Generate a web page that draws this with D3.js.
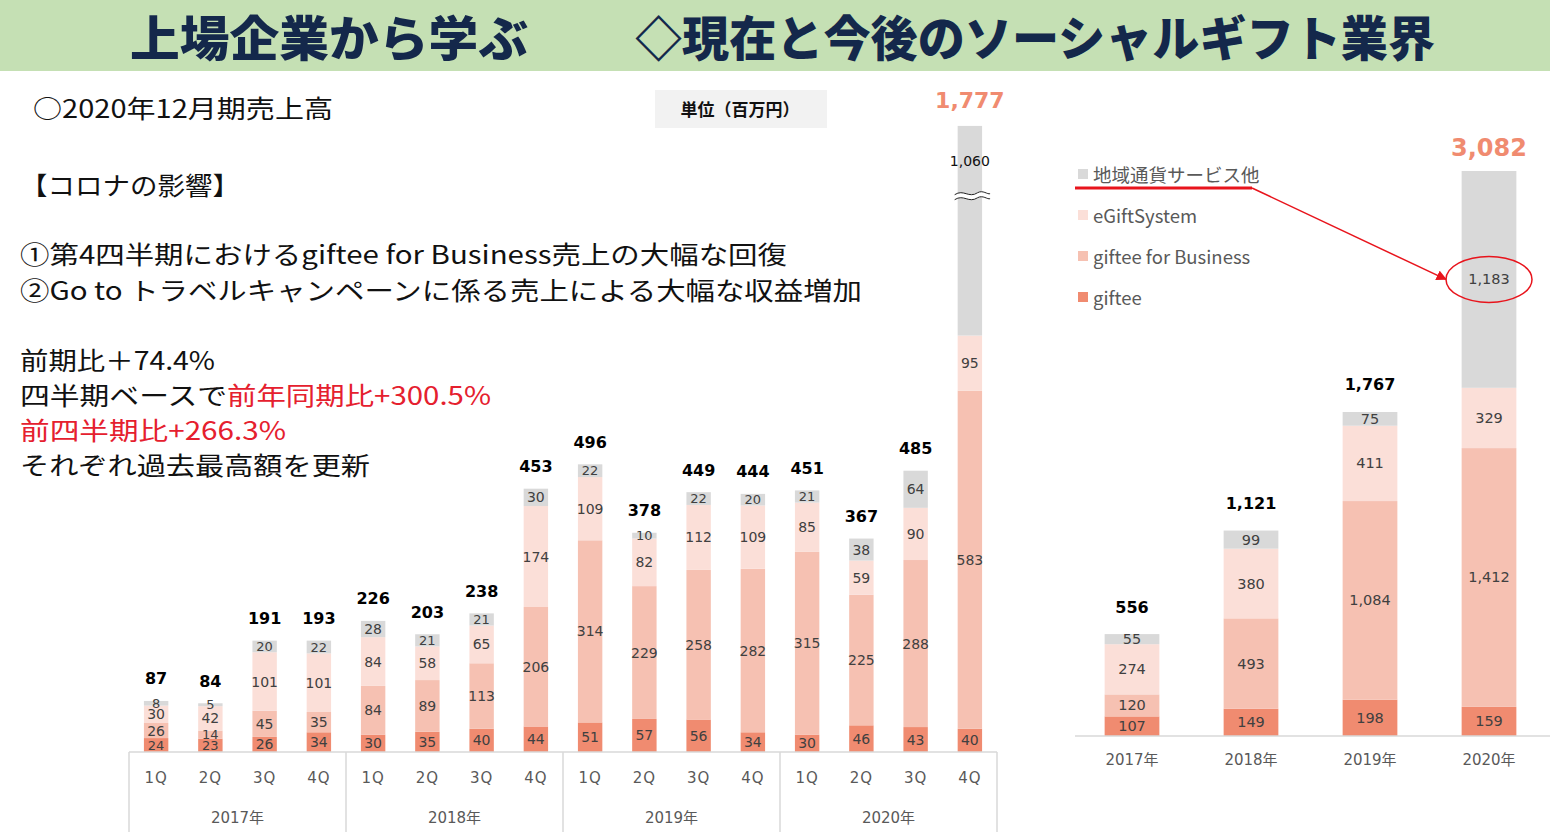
<!DOCTYPE html>
<html><head><meta charset="utf-8">
<script src="https://cdn.jsdelivr.net/npm/d3@7/dist/d3.min.js"></script>
<style>body{margin:0;background:#fff;overflow:hidden}svg{display:block}</style>
</head><body>
<script>
// ---------- DATA ----------
const seriesNames = ["giftee", "giftee for Business", "eGiftSystem", "地域通貨サービス他"];
const seriesKeys = ["giftee", "gfb", "egift", "other"];
const quarterLabels = ["1Q","2Q","3Q","4Q","1Q","2Q","3Q","4Q","1Q","2Q","3Q","4Q","1Q","2Q","3Q","4Q"];
const yearLabels = ["2017年","2018年","2019年","2020年"];
const qGiftee = [24,23,26,34, 30,35,40,44, 51,57,56,34, 30,46,43,40];
const qGfb    = [26,14,45,35, 84,89,113,206, 314,229,258,282, 315,225,288,583];
const qEgift  = [30,42,101,101, 84,58,65,174, 109,82,112,109, 85,59,90,95];
const qOther  = [8,5,20,22, 28,21,21,30, 22,10,22,20, 21,38,64,1060];
const qTotals = [87,84,191,193, 226,203,238,453, 496,378,449,444, 451,367,485,1777];
const aGiftee = [107,149,198,159];
const aGfb    = [120,493,1084,1412];
const aEgift  = [274,380,411,329];
const aOther  = [55,99,75,1183];
const aTotals = [556,1121,1767,3082];
const qBreakValue = 960; // axis break on the 2020 4Q bar

const colors = {giftee:"#f08b70", gfb:"#f6c1b2", egift:"#fbdfd8", other:"#d9d9d9"};
const fmt = d3.format(",");

const W = 1550, H = 832;
const svg = d3.select("body").append("svg").attr("width", W).attr("height", H)
  .style("font-family", "'Noto Sans CJK JP', sans-serif");

// ---------- HEADER ----------
svg.append("rect").attr("x",0).attr("y",0).attr("width",W).attr("height",71).attr("fill","#c5e0b4");
const titleG = svg.append("g").attr("fill","#14284b").style("font-weight",900).style("font-size","48px");
titleG.append("text").attr("x",130).attr("y",56).attr("textLength",398).attr("lengthAdjust","spacingAndGlyphs").text("上場企業から学ぶ");
titleG.append("text").attr("x",635).attr("y",56).attr("textLength",800).attr("lengthAdjust","spacingAndGlyphs").text("◇現在と今後のソーシャルギフト業界");

// ---------- LEFT TEXT ----------
const txt = svg.append("g").style("font-size","25px").attr("fill","#111");
txt.append("text").attr("x",33).attr("y",118).attr("textLength",300).attr("lengthAdjust","spacingAndGlyphs").text("○2020年12月期売上高");
txt.append("text").attr("x",20).attr("y",195).attr("textLength",220).attr("lengthAdjust","spacingAndGlyphs").text("【コロナの影響】");
txt.append("text").attr("x",20).attr("y",264).attr("textLength",767).attr("lengthAdjust","spacingAndGlyphs").text("①第4四半期におけるgiftee for Business売上の大幅な回復");
txt.append("text").attr("x",20).attr("y",300).attr("textLength",842).attr("lengthAdjust","spacingAndGlyphs").text("②Go to トラベルキャンペーンに係る売上による大幅な収益増加");
txt.append("text").attr("x",20).attr("y",370).attr("textLength",195).attr("lengthAdjust","spacingAndGlyphs").text("前期比＋74.4%");
const t2 = txt.append("text").attr("x",20).attr("y",405);
t2.append("tspan").attr("textLength",207).attr("lengthAdjust","spacingAndGlyphs").text("四半期ベースで");
t2.append("tspan").attr("fill","#e5202e").attr("x",227).attr("textLength",264).attr("lengthAdjust","spacingAndGlyphs").text("前年同期比+300.5%");
txt.append("text").attr("x",20).attr("y",440).attr("fill","#e5202e").attr("textLength",266).attr("lengthAdjust","spacingAndGlyphs").text("前四半期比+266.3%");
txt.append("text").attr("x",20).attr("y",475).attr("textLength",350).attr("lengthAdjust","spacingAndGlyphs").text("それぞれ過去最高額を更新");

// unit box
svg.append("rect").attr("x",655).attr("y",90).attr("width",172).attr("height",38).attr("fill","#f2f2f2");
svg.append("text").attr("x",740).attr("y",111).attr("text-anchor","middle").attr("dominant-baseline","middle")
  .style("font-size","17px").style("font-weight",700).attr("fill","#111").text("単位（百万円）");

// ---------- LEFT CHART (quarterly) ----------
const qRows = quarterLabels.map((q,i)=>({i, giftee:qGiftee[i], gfb:qGfb[i], egift:qEgift[i], other:qOther[i], total:qTotals[i]}));
const qStack = d3.stack().keys(seriesKeys)(qRows);
const xQ = d3.scaleBand().domain(d3.range(quarterLabels.length)).range([129, 997]).paddingInner(0.55).paddingOuter(0.275);
const yQ = d3.scaleLinear().domain([0, qBreakValue, d3.max(qTotals)]).range([752, 195.2, 126]);
const numFont = "'DejaVu Sans', 'Noto Sans CJK JP', sans-serif";

const gQ = svg.append("g");
qStack.forEach(layer => {
  const key = layer.key;
  gQ.append("g").selectAll("rect").data(layer).join("rect")
    .attr("x", d => xQ(d.data.i)).attr("width", xQ.bandwidth())
    .attr("y", d => yQ(d[1])).attr("height", d => yQ(d[0]) - yQ(d[1]))
    .attr("fill", colors[key]);
});
// break marks
const bi = quarterLabels.length - 1;
const by = yQ(qBreakValue);
const bx0 = xQ(bi) - 3, bx1 = xQ(bi) + xQ.bandwidth() + 8;
const wave = (yy) => { const p = d3.path(); p.moveTo(bx0, yy+2); p.bezierCurveTo(bx0+9, yy-4, bx0+14, yy+6, bx0+23, yy); p.bezierCurveTo(bx0+28, yy-3, bx0+33, yy+2, bx1, yy+1); return p.toString(); };
gQ.append("path").attr("d", wave(by)).attr("fill","none").attr("stroke","#fff").attr("stroke-width",5);
gQ.append("path").attr("d", wave(by-2.5)).attr("fill","none").attr("stroke","#222").attr("stroke-width",1);
gQ.append("path").attr("d", wave(by+2.5)).attr("fill","none").attr("stroke","#222").attr("stroke-width",1);

// segment labels
qStack.forEach(layer => {
  gQ.append("g").selectAll("text").data(layer).join("text")
    .attr("x", d => xQ(d.data.i) + xQ.bandwidth()/2)
    .attr("y", d => (d.data.i === bi && layer.key === "other") ? (yQ(d[1]) + by)/2 : (yQ(d[0]) + yQ(d[1]))/2)
    .attr("text-anchor","middle").attr("dominant-baseline","central")
    .style("font-family", numFont).style("font-size", d => (yQ(d[0]) - yQ(d[1]) < 14) ? "13px" : "14px")
    .attr("fill", d => (d.data.i === bi && layer.key === "other") ? "#111" : "#404040")
    .text(d => fmt(d.data[layer.key]));
});
// totals
gQ.append("g").selectAll("text").data(qRows).join("text")
  .attr("x", d => xQ(d.i) + xQ.bandwidth()/2)
  .attr("y", d => yQ(d3.sum(seriesKeys, k => d[k])) - (d.i === bi ? 25 : 22))
  .attr("text-anchor","middle").attr("dominant-baseline","central")
  .style("font-family", numFont).style("font-weight",700)
  .style("font-size", d => d.i === bi ? "22px" : "16px")
  .attr("fill", d => d.i === bi ? "#f08b70" : "#000")
  .text(d => fmt(d.total));

// axis
const axQ = svg.append("g").attr("transform","translate(0,752)")
  .call(d3.axisBottom(xQ).tickSize(0).tickPadding(20).tickFormat(i => quarterLabels[i]));
axQ.select(".domain").remove();
axQ.selectAll("text").style("font-family", numFont).style("font-size","15px").attr("fill","#595959").attr("letter-spacing","1px");
svg.append("line").attr("x1",129).attr("x2",997).attr("y1",752).attr("y2",752).attr("stroke","#d9d9d9").attr("stroke-width",1.5);
const yearX = d3.scaleBand().domain(yearLabels).range([129, 997]);
svg.append("g").selectAll("line").data(d3.range(yearLabels.length + 1)).join("line")
  .attr("x1", k => 129 + k*yearX.step()).attr("x2", k => 129 + k*yearX.step())
  .attr("y1", 752).attr("y2", 832).attr("stroke","#d9d9d9").attr("stroke-width",1.5);
svg.append("g").selectAll("text").data(yearLabels).join("text")
  .attr("x", d => yearX(d) + yearX.bandwidth()/2).attr("y", 818)
  .attr("text-anchor","middle").attr("dominant-baseline","central")
  .style("font-family", numFont).style("font-size","15px").attr("fill","#595959").text(d => d);

// ---------- RIGHT CHART (annual) ----------
const aRows = yearLabels.map((y,i)=>({year:y, giftee:aGiftee[i], gfb:aGfb[i], egift:aEgift[i], other:aOther[i], total:aTotals[i]}));
const aStack = d3.stack().keys(seriesKeys)(aRows);
const xA = d3.scaleBand().domain(yearLabels).range([1072.5, 1548.5]).paddingInner(0.54).paddingOuter(0.27);
const yA = d3.scaleLinear().domain([0, d3.max(aRows, d => d3.sum(seriesKeys, k => d[k]))]).range([736, 171]);
const gA = svg.append("g");
aStack.forEach(layer => {
  gA.append("g").selectAll("rect").data(layer).join("rect")
    .attr("x", d => xA(d.data.year)).attr("width", xA.bandwidth())
    .attr("y", d => yA(d[1])).attr("height", d => yA(d[0]) - yA(d[1]))
    .attr("fill", colors[layer.key]);
  gA.append("g").selectAll("text").data(layer).join("text")
    .attr("x", d => xA(d.data.year) + xA.bandwidth()/2)
    .attr("y", d => (yA(d[0]) + yA(d[1]))/2)
    .attr("text-anchor","middle").attr("dominant-baseline","central")
    .style("font-family", numFont).style("font-size","14.5px").attr("fill","#404040")
    .text(d => fmt(d.data[layer.key]));
});
const lastYear = yearLabels[yearLabels.length-1];
gA.append("g").selectAll("text").data(aRows).join("text")
  .attr("x", d => xA(d.year) + xA.bandwidth()/2)
  .attr("y", d => yA(d3.sum(seriesKeys, k => d[k])) - (d.year === lastYear ? 23 : 27))
  .attr("text-anchor","middle").attr("dominant-baseline","central")
  .style("font-family", numFont).style("font-weight",700)
  .style("font-size", d => d.year === lastYear ? "24px" : "16px")
  .attr("fill", d => d.year === lastYear ? "#f08b70" : "#000")
  .text(d => fmt(d.total));
const axA = svg.append("g").attr("transform","translate(0,736)")
  .call(d3.axisBottom(xA).tickSize(0).tickPadding(18));
axA.select(".domain").remove();
axA.selectAll("text").style("font-family", numFont).style("font-size","15px").attr("fill","#595959");
svg.append("line").attr("x1",1075).attr("x2",1550).attr("y1",736).attr("y2",736).attr("stroke","#d9d9d9").attr("stroke-width",1.5);

// legend (top to bottom: reversed stack order)
const legendKeys = seriesKeys.slice().reverse();
const legendNames = seriesNames.slice().reverse();
const lg = svg.append("g");
legendKeys.forEach((k, i) => {
  const yy = 174 + i*41;
  lg.append("rect").attr("x",1078).attr("y",yy-5).attr("width",10).attr("height",10).attr("fill",colors[k]);
  lg.append("text").attr("x",1093).attr("y",yy).attr("dominant-baseline","central")
    .style("font-size","18.5px").attr("fill","#595959").text(legendNames[i]);
});

// annotation
const red = "#e8141c";
svg.append("defs").append("marker").attr("id","arr").attr("viewBox","0 0 10 10").attr("refX",9).attr("refY",5)
  .attr("markerWidth",7).attr("markerHeight",7).attr("orient","auto-start-reverse")
  .append("path").attr("d","M0,0 L10,5 L0,10 z").attr("fill",red);
svg.append("line").attr("x1",1075).attr("x2",1252).attr("y1",188).attr("y2",188).attr("stroke",red).attr("stroke-width",3);
const otherLast = aStack[3][3];
const ey = (yA(otherLast[0]) + yA(otherLast[1]))/2;
const ex = xA(lastYear) + xA.bandwidth()/2;
svg.append("line").attr("x1",1252).attr("y1",188).attr("x2",ex-43).attr("y2",ey).attr("stroke",red).attr("stroke-width",1.5).attr("marker-end","url(#arr)");
svg.append("ellipse").attr("cx",ex).attr("cy",ey).attr("rx",43).attr("ry",23).attr("fill","none").attr("stroke",red).attr("stroke-width",1.5);
</script>
</body></html>
